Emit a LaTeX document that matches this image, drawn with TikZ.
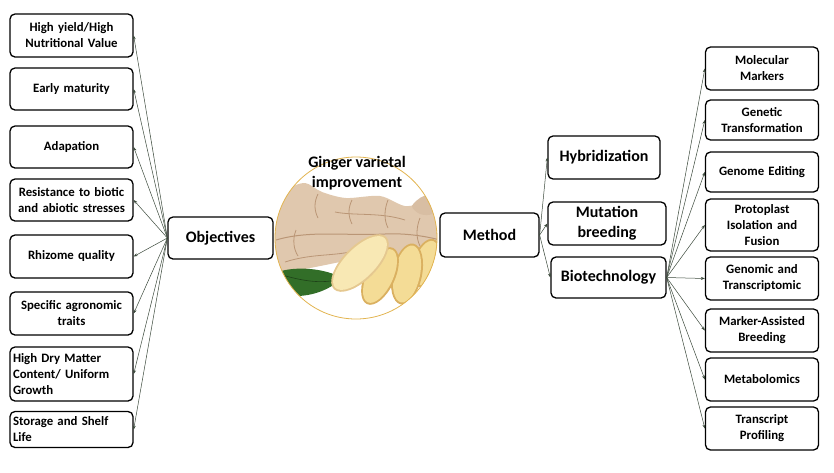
\documentclass[tikz,border=0pt]{standalone}
\usepackage{fontspec}
\setmainfont{Carlito}
\usepackage{tikz}
\usetikzlibrary{arrows.meta}
\definecolor{linkgray}{RGB}{58,72,58}
\definecolor{ringgold}{RGB}{226,180,80}
\definecolor{gskin}{RGB}{224,200,174}
\definecolor{gskindark}{RGB}{186,150,118}
\definecolor{sliceedge}{RGB}{218,176,96}
\definecolor{slicein}{RGB}{244,220,150}
\definecolor{slicelight}{RGB}{248,232,180}
\definecolor{leafgreen}{RGB}{50,110,40}
\newcommand{\boxfont}{\bfseries\fontsize{12.8}{16}\selectfont\spaceskip 0.2em plus 0.1em minus 0.05em\relax}

\tikzset{
	box/.style={draw, line width=1.3pt, rounded corners=5pt, fill=white, inner xsep=3pt, inner ysep=1pt},
	smallbox/.style={box, minimum width=123pt, text width=117pt, align=center, font=\boxfont},
	rightbox/.style={smallbox, minimum width=113pt, text width=107pt},
	bigbox/.style={box, align=center, font=\bfseries\fontsize{16}{20}\selectfont},
	link/.style={draw=linkgray, line width=0.5pt, -{Stealth[length=4pt,width=3pt]}}
}

\begin{document}
\begin{tikzpicture}[x=1pt,y=-1pt]
							\useasboundingbox (0,0) rectangle (834,472);
							
							\node[smallbox, minimum height=43pt] (o1) at (71.5,35.5) {High yield/High\\Nutritional Value};
							\node[smallbox, minimum height=42pt] (o2) at (71.5,89) {Early maturity};
							\node[smallbox, minimum height=42pt] (o3) at (71.5,147) {Adapation};
							\node[smallbox, minimum height=42pt] (o4) at (71.5,200) {Resistance to biotic\\and abiotic stresses};
							\node[smallbox, minimum height=43pt] (o5) at (71.5,256.5) {Rhizome quality};
							\node[smallbox, minimum height=43pt] (o6) at (71.5,313.5) {Specific agronomic\\traits};
							\node[smallbox, minimum height=54pt, align=left] (o7) at (71.5,374) {High Dry Matter\\Content/ Uniform\\Growth};
							\node[smallbox, minimum height=36pt, align=left] (o8) at (71.5,429.5) {Storage and Shelf\\Life};
							
							\node[bigbox, minimum width=105pt, minimum height=42pt] (obj) at (220.5,238) {Objectives};
							
							\coordinate (C) at (356,238);
							\begin{scope}
								\clip (C) circle (81);
								\fill[gskin] plot[smooth cycle] coordinates {(272,215) (288,190) (305,183) (322,192) (346,198) (380,196) (405,206) (428,203) (442,215) (442,258) (420,262) (395,260) (360,258) (340,262) (310,268) (283,272) (272,250)};
								\fill[gskin!80!gskindark] plot[smooth cycle] coordinates {(412,206) (424,196) (436,202) (432,214) (420,214)};
								\draw[gskindark, line width=1pt] (276,240) .. controls (310,230) and (345,236) .. (385,234) .. controls (405,233) and (425,236) .. (440,240);
								\draw[gskindark, line width=0.8pt] (285,262) .. controls (310,254) and (330,256) .. (350,252);
								\draw[gskindark, line width=0.8pt] (335,212) .. controls (355,216) and (380,212) .. (405,220);
								\draw[gskindark, line width=0.8pt] (318,194) .. controls (314,202) and (314,210) .. (318,218);
								\draw[gskindark, line width=0.8pt] (296,230) .. controls (292,240) and (294,250) .. (298,256);
								\draw[gskindark, line width=0.8pt] (352,200) .. controls (348,208) and (348,216) .. (352,224);
								\draw[gskindark, line width=0.8pt] (388,200) .. controls (384,210) and (384,220) .. (388,228);
								\draw[gskindark, line width=0.8pt] (420,218) .. controls (416,228) and (416,238) .. (420,246);
								\fill[leafgreen] (278,272) .. controls (295,266) and (325,268) .. (342,278) .. controls (330,290) and (312,296) .. (296,296) .. controls (288,290) and (282,282) .. (278,272) -- cycle;
								\draw[leafgreen!60!black, line width=0.6pt] (282,275) .. controls (300,280) and (318,284) .. (336,280);
								\fill[sliceedge] (426,263) ellipse [x radius=13, y radius=25, rotate=-18];
								\fill[slicein] (426,263) ellipse [x radius=11, y radius=23, rotate=-18];
								\fill[sliceedge] (407,274) ellipse [x radius=15, y radius=31, rotate=-12];
								\fill[slicein] (407,274) ellipse [x radius=13, y radius=29, rotate=-12];
								\fill[sliceedge] (380,276) ellipse [x radius=15, y radius=31, rotate=-25];
								\fill[slicein] (380,276) ellipse [x radius=13, y radius=29, rotate=-25];
								\fill[sliceedge!70!white] (360,263) ellipse [x radius=17, y radius=37, rotate=-45];
								\fill[slicelight] (360,263) ellipse [x radius=15, y radius=35, rotate=-45];
							\end{scope}
							\draw[ringgold, line width=0.8pt] (C) circle (81);
							\node[align=center, font=\bfseries\fontsize{16}{20}\selectfont] (title) at (357,173) {Ginger varietal\\improvement};
							
							\node[bigbox, minimum width=99pt, minimum height=44pt] (meth) at (489.5,235) {Method};
							\node[bigbox, minimum width=112pt, minimum height=43pt] (hyb) at (604,157.5) {Hybridization};
							\node[bigbox, minimum width=118pt, minimum height=43pt] (mut) at (607,223.5) {Mutation\\breeding};
							\node[bigbox, minimum width=115pt, minimum height=41pt] (bio) at (608.5,277.5) {Biotechnology};
							
							\node[rightbox, minimum height=43pt] (r1) at (762,68.5) {Molecular\\Markers};
							\node[rightbox, minimum height=40pt] (r2) at (762,120) {Genetic\\Transformation};
							\node[rightbox, minimum height=40pt] (r3) at (762,172) {Genome Editing};
							\node[rightbox, minimum height=52pt] (r4) at (762,225) {Protoplast\\Isolation and\\Fusion};
							\node[rightbox, minimum height=43pt] (r5) at (762,278.5) {Genomic and\\Transcriptomic};
							\node[rightbox, minimum height=43pt] (r6) at (762,330.5) {Marker-Assisted\\Breeding};
							\node[rightbox, minimum height=43pt] (r7) at (762,379.5) {Metabolomics};
							\node[rightbox, minimum height=43pt] (r8) at (762,428.5) {Transcript\\Profiling};
							
							\foreach \n in {o1,o2,o3,o4,o5,o6,o7,o8}
								\draw[link] (obj.west) -- (\n.east);
							\foreach \n in {hyb,mut,bio}
								\draw[link] (meth.east) -- (\n.west);
							\foreach \n in {r1,r2,r3,r4,r5,r6,r7,r8}
								\draw[link] (bio.east) -- (\n.west);
						\end{tikzpicture}
\end{document}
